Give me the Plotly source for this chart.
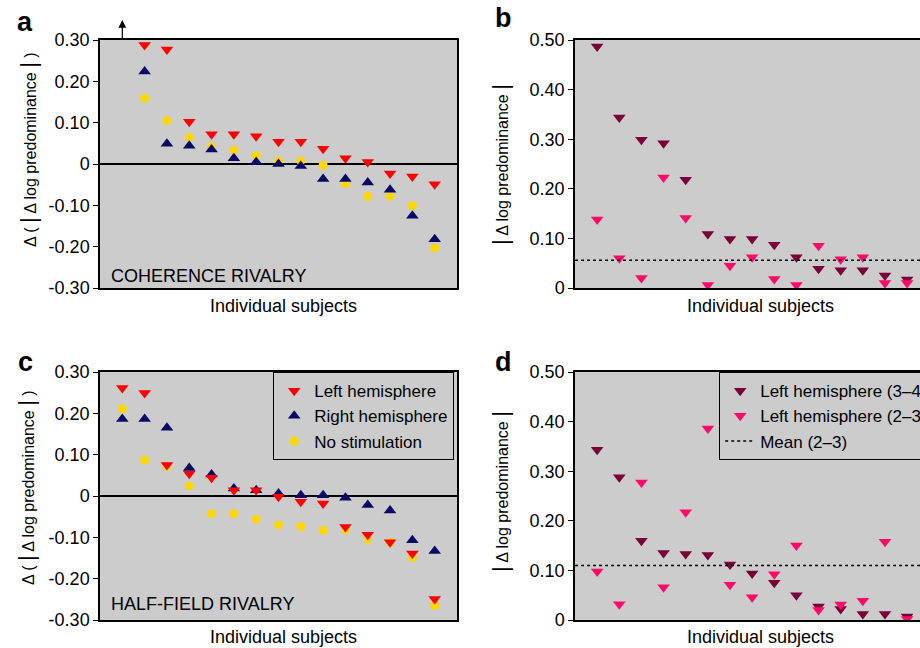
import plotly.graph_objects as go

# ---------------- data ----------------
subjects = list(range(1, 16))

# Panel a: coherence rivalry (subject 1 off-scale, shown by arrow)
a_left = [None, 0.288, 0.277, 0.102, 0.072, 0.072, 0.067, 0.054, 0.054, 0.037, 0.014, 0.005, -0.023, -0.030, -0.049]
a_right = [None, 0.224, 0.049, 0.044, 0.035, 0.014, 0.005, 0.000, -0.005, -0.036, -0.036, -0.045, -0.062, -0.125, -0.182]
a_nostim = [None, 0.159, 0.105, 0.065, 0.042, 0.034, 0.020, 0.007, 0.007, -0.003, -0.048, -0.078, -0.078, -0.101, -0.203]

# Panel b
b_34 = [0.487, 0.344, 0.299, 0.292, 0.218, 0.109, 0.099, 0.099, 0.087, 0.062, 0.039, 0.036, 0.036, 0.025, 0.017]
b_23 = [0.138, 0.060, 0.020, 0.223, 0.141, 0.006, 0.045, 0.062, 0.018, 0.006, 0.085, 0.058, 0.062, 0.010, 0.010]
b_mean = 0.056

# Panel c: half-field rivalry
c_left = [0.261, 0.249, 0.075, 0.054, 0.044, 0.014, 0.014, -0.002, -0.014, -0.018, -0.075, -0.094, -0.112, -0.139, -0.249]
c_right = [0.186, 0.186, 0.165, 0.068, 0.052, 0.018, 0.014, 0.006, 0.002, 0.002, -0.004, -0.022, -0.035, -0.107, -0.133]
c_nostim = [0.211, 0.087, 0.072, 0.024, -0.043, -0.043, -0.056, -0.070, -0.074, -0.083, -0.082, -0.104, -0.112, -0.149, -0.265]

# Panel d
d_34 = [0.343, 0.288, 0.160, 0.135, 0.133, 0.131, 0.112, 0.094, 0.075, 0.050, 0.027, 0.022, 0.012, 0.012, 0.007]
d_23 = [0.098, 0.032, 0.277, 0.066, 0.217, 0.386, 0.071, 0.046, 0.092, 0.150, 0.020, 0.031, 0.039, 0.158, 0.002]
d_mean = 0.110

delta_ticks = [-0.3, -0.2, -0.1, 0, 0.1, 0.2, 0.3]
delta_labels = ["-0.30", "-0.20", "-0.10", "0", "0.10", "0.20", "0.30"]
abs_ticks = [0, 0.1, 0.2, 0.3, 0.4, 0.5]
abs_labels = ["0", "0.10", "0.20", "0.30", "0.40", "0.50"]

legend_names_ac = ["Left hemisphere", "Right hemisphere", "No stimulation"]
legend_names_bd = ["Left hemisphere (3\u20134)", "Left hemisphere (2\u20133)", "Mean (2\u20133)"]

# ---------------- style ----------------
RED = "#ff0000"
NAVY = "#0a0a66"
GOLD = "#ffd700"
MAROON = "#7a0038"
PINK = "#ff0a6a"
BG = "#cccccc"
FONT = "Liberation Sans, Arial, Helvetica, sans-serif"

fig = go.Figure()


def add_abc(xa, ya, left, right, nostim, legend, show):
    fig.add_trace(go.Scatter(x=subjects, y=nostim, mode="markers", name=legend_names_ac[2],
                             marker=dict(symbol="circle", size=9, color=GOLD),
                             xaxis=xa, yaxis=ya, legend=legend, showlegend=show))
    fig.add_trace(go.Scatter(x=subjects, y=right, mode="markers", name=legend_names_ac[1],
                             marker=dict(symbol="triangle-up", size=11, color=NAVY),
                             xaxis=xa, yaxis=ya, legend=legend, showlegend=show))
    fig.add_trace(go.Scatter(x=subjects, y=left, mode="markers", name=legend_names_ac[0],
                             marker=dict(symbol="triangle-down", size=11, color=RED),
                             xaxis=xa, yaxis=ya, legend=legend, showlegend=show))


def add_bd(xa, ya, v34, v23, mean, legend, show):
    fig.add_trace(go.Scatter(x=subjects, y=v34, mode="markers", name=legend_names_bd[0],
                             marker=dict(symbol="triangle-down", size=11, color=MAROON),
                             xaxis=xa, yaxis=ya, legend=legend, showlegend=show))
    fig.add_trace(go.Scatter(x=subjects, y=v23, mode="markers", name=legend_names_bd[1],
                             marker=dict(symbol="triangle-down", size=11, color=PINK),
                             xaxis=xa, yaxis=ya, legend=legend, showlegend=show))
    fig.add_trace(go.Scatter(x=[0, 16], y=[mean, mean], mode="lines", name=legend_names_bd[2],
                             line=dict(color="black", width=1.5, dash="dot"),
                             xaxis=xa, yaxis=ya, legend=legend, showlegend=show))


add_abc("x", "y", a_left, a_right, a_nostim, "legend", False)
add_bd("x2", "y2", b_34, b_23, b_mean, "legend2", False)
add_abc("x3", "y3", c_left, c_right, c_nostim, "legend", True)
add_bd("x4", "y4", d_34, d_23, d_mean, "legend2", True)

W, H = 920, 648
xdom_l = [100 / W, 457 / W]
xdom_r = [575 / W, 1.0]
ydom_t = [1 - 288 / H, 1 - 40 / H]
ydom_b = [1 - 620 / H, 1 - 372 / H]

common_x = dict(showgrid=False, zeroline=False, showticklabels=False, ticks="",
                showline=True, linecolor="black", linewidth=1.5, mirror=True)
common_y = dict(showgrid=False, ticks="outside", ticklen=5, tickwidth=1.2, tickcolor="black",
                showline=True, linecolor="black", linewidth=1.5,
                tickfont=dict(size=18, color="black", family=FONT))

right_span = (920 - 575) / 22.14

fig.update_layout(
    width=W, height=H,
    margin=dict(l=0, r=0, t=0, b=0, autoexpand=False),
    paper_bgcolor="white",
    plot_bgcolor=BG,
    font=dict(family=FONT, size=18, color="black"),
    xaxis=dict(domain=xdom_l, anchor="y", range=[0, 16], **common_x),
    yaxis=dict(domain=ydom_t, anchor="x", range=[-0.3, 0.3], tickvals=delta_ticks, ticktext=delta_labels,
               zeroline=True, zerolinecolor="black", zerolinewidth=1.5, mirror=True, **common_y),
    xaxis2=dict(domain=xdom_r, anchor="y2", range=[0, right_span], **common_x),
    yaxis2=dict(domain=ydom_t, anchor="x2", range=[0, 0.5], tickvals=abs_ticks, ticktext=abs_labels,
                zeroline=False, mirror=False, **common_y),
    xaxis3=dict(domain=xdom_l, anchor="y3", range=[0, 16], **common_x),
    yaxis3=dict(domain=ydom_b, anchor="x3", range=[-0.3, 0.3], tickvals=delta_ticks, ticktext=delta_labels,
                zeroline=True, zerolinecolor="black", zerolinewidth=1.5, mirror=True, **common_y),
    xaxis4=dict(domain=xdom_r, anchor="y4", range=[0, right_span], **common_x),
    yaxis4=dict(domain=ydom_b, anchor="x4", range=[0, 0.5], tickvals=abs_ticks, ticktext=abs_labels,
                zeroline=False, mirror=False, **common_y),
    legend=dict(x=273 / W, y=1 - 372 / H, xanchor="left", yanchor="top", traceorder="reversed",
                bgcolor=BG, bordercolor="black", borderwidth=1.2,
                font=dict(size=17, family=FONT, color="black"), itemwidth=30, tracegroupgap=0),
    legend2=dict(x=719 / W, y=1 - 372 / H, xanchor="left", yanchor="top", traceorder="normal",
                 bgcolor=BG, bordercolor="black", borderwidth=1.2,
                 font=dict(size=17, family=FONT, color="black"), itemwidth=30, tracegroupgap=0),
    showlegend=True,
)

bar = '<span style="font-size:22px">|</span>'
ann = []
# panel letters
for txt, x, y in [("a", 25, 22), ("b", 503, 18), ("c", 25, 362), ("d", 503, 362)]:
    ann.append(dict(text=f"<b>{txt}</b>", x=x / W, y=1 - y / H, xref="paper", yref="paper",
                    xanchor="center", yanchor="middle", showarrow=False, font=dict(size=27, family=FONT)))
# y titles
delta_title = f"\u0394 ( {bar} \u0394 log predominance {bar} )"
abs_title = f"{bar} \u0394 log predominance {bar}"
for txt, x, y in [(delta_title, 28, 150), (abs_title, 500, 165), (delta_title, 26, 488), (abs_title, 500, 492)]:
    ann.append(dict(text=txt, x=x / W, y=1 - y / H, xref="paper", yref="paper", textangle=-90,
                    xanchor="center", yanchor="middle", showarrow=False, font=dict(size=16, family=FONT)))
# x titles
for x, y in [(283, 306), (760, 306), (283, 637), (760, 637)]:
    ann.append(dict(text="Individual subjects", x=x / W, y=1 - y / H, xref="paper", yref="paper",
                    xanchor="center", yanchor="middle", showarrow=False, font=dict(size=18, family=FONT)))
# panel captions
ann.append(dict(text="COHERENCE RIVALRY", x=0.4, y=-0.27, xref="x", yref="y", xanchor="left",
                yanchor="middle", showarrow=False, font=dict(size=18, family=FONT)))
ann.append(dict(text="HALF-FIELD RIVALRY", x=0.4, y=-0.262, xref="x3", yref="y3", xanchor="left",
                yanchor="middle", showarrow=False, font=dict(size=18, family=FONT)))
# off-scale arrow for subject 1 in panel a
ann.append(dict(text="", x=1, y=1 - 20 / H, xref="x", yref="paper", ax=0, ay=20,
                showarrow=True, arrowhead=2, arrowsize=1.3, arrowwidth=1.2, arrowcolor="black"))
fig.update_layout(annotations=ann)

fig.write_html("out.html", config={"displayModeBar": False},
               post_script="document.body.style.margin='0';")
